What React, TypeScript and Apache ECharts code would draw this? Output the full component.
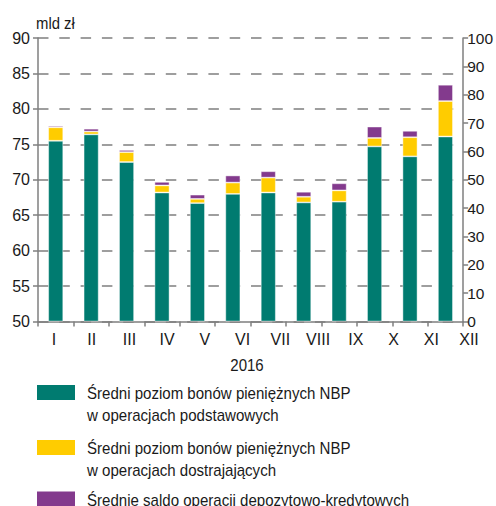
import React, { useEffect, useRef } from "react";
import * as echarts from "echarts";

const months = ["I", "II", "III", "IV", "V", "VI", "VII", "VIII", "IX", "X", "XI", "XII"];
const basicOps = [75.5, 76.4, 72.5, 68.2, 66.7, 68.0, 68.2, 66.8, 66.9, 74.7, 73.3, 76.1];
const fineTuningOps = [1.9, 0.4, 1.4, 1.0, 0.6, 1.6, 2.1, 0.8, 1.6, 1.2, 2.7, 5.0];
const depositCredit = [0.2, 0.4, 0.3, 0.5, 0.6, 1.0, 0.9, 0.7, 1.0, 1.6, 0.9, 2.3];
const seriesNames = [
  "Średni poziom bonów pieniężnych NBP\nw operacjach podstawowych",
  "Średni poziom bonów pieniężnych NBP\nw operacjach dostrajających",
  "Średnie saldo operacji depozytowo-kredytowych",
];
const leftTicks = { min: 50, max: 90, interval: 5 };
const rightTicks = { min: 0, max: 100, interval: 10 };
const unitLabel = "mld zł";
const yearLabel = "2016";

const COLORS = ["#007B70", "#FFCC00", "#833A8D"];
const FONT = '"Liberation Sans", Arial, sans-serif';
const TEXT = "#1a1a1a";
const AXIS = "#7f7f7f";

export default function App() {
  const ref = useRef<HTMLDivElement>(null);
  useEffect(() => {
    if (!ref.current) return;
    const chart = echarts.init(ref.current, undefined, { renderer: "svg" });
    const values = [basicOps, fineTuningOps, depositCredit];
    const legendGraphics: any[] = [];
    const legendTops = [385, 440, 491.5];
    seriesNames.forEach((name, i) => {
      legendGraphics.push({
        type: "rect",
        shape: { x: 37, y: legendTops[i], width: 38, height: 15 },
        style: { fill: COLORS[i] },
      });
      name.split("\n").forEach((line, j) => {
        legendGraphics.push({
          type: "text",
          x: 87,
          y: legendTops[i] + 8.5 + j * 22,
          scaleX: 0.93,
          style: {
            text: line,
            font: `16.2px ${FONT}`,
            fill: TEXT,
            textAlign: "left",
            textVerticalAlign: "middle",
          },
        });
      });
    });

    chart.setOption({
      animation: false,
      textStyle: { fontFamily: FONT },
      grid: [
        { left: 38, right: 31, top: 38, bottom: 184.5 },
        { left: 54, right: 27, top: 38, bottom: 184.5 },
      ],
      xAxis: [
        {
          type: "category",
          gridIndex: 0,
          data: months,
          boundaryGap: true,
          axisLine: { show: true, lineStyle: { color: AXIS, width: 1.5 } },
          axisTick: { show: true, length: 5, lineStyle: { color: AXIS, width: 1.5 } },
          axisLabel: { show: false },
          splitLine: { show: false },
        },
        {
          type: "category",
          gridIndex: 1,
          data: months,
          boundaryGap: false,
          axisLine: { show: false },
          axisTick: { show: false },
          axisLabel: { show: true, interval: 0, margin: 10, fontSize: 16, color: TEXT, fontFamily: FONT },
          splitLine: { show: false },
        },
      ],
      yAxis: [
        {
          type: "value",
          gridIndex: 0,
          position: "left",
          min: leftTicks.min,
          max: leftTicks.max,
          interval: leftTicks.interval,
          startValue: leftTicks.min,
          axisLine: { show: true, lineStyle: { color: AXIS, width: 1.5 } },
          axisTick: { show: true, length: 5, lineStyle: { color: AXIS, width: 1.5 } },
          axisLabel: { margin: 8, fontSize: 16, color: TEXT, fontFamily: FONT },
          splitLine: {
            show: true,
            lineStyle: { color: AXIS, width: 1.5, type: [10.5, 10.8] },
          },
        },
        {
          type: "value",
          gridIndex: 0,
          position: "right",
          min: rightTicks.min,
          max: rightTicks.max,
          interval: rightTicks.interval,
          axisLine: { show: true, lineStyle: { color: AXIS, width: 1.5 } },
          axisTick: { show: true, length: 5, lineStyle: { color: AXIS, width: 1.5 } },
          axisLabel: { margin: 4, fontSize: 15.5, color: TEXT, fontFamily: FONT },
          splitLine: { show: false },
        },
        {
          type: "value",
          gridIndex: 1,
          show: false,
        },
      ],
      series: values.map((data, i) => ({
        type: "bar",
        name: seriesNames[i],
        xAxisIndex: 0,
        yAxisIndex: 0,
        stack: "total",
        data,
        barWidth: 15,
        clip: true,
        itemStyle: {
          color: COLORS[i],
          borderColor: "rgba(255,255,255,0.55)",
          borderWidth: 0.8,
        },
      })),
      graphic: [
        {
          type: "text",
          x: 36,
          y: 23,
          scaleX: 0.93,
          style: {
            text: unitLabel,
            font: `16px ${FONT}`,
            fill: TEXT,
            textAlign: "left",
            textVerticalAlign: "middle",
          },
        },
        {
          type: "text",
          x: 247,
          y: 365,
          scaleX: 0.94,
          style: {
            text: yearLabel,
            font: `16px ${FONT}`,
            fill: TEXT,
            textAlign: "center",
            textVerticalAlign: "middle",
          },
        },
        ...legendGraphics,
      ],
    });
    return () => chart.dispose();
  }, []);
  return (
    <div
      ref={ref}
      style={{ position: "fixed", left: 0, top: 0, width: 496, height: 506, background: "#fff" }}
    />
  );
}
